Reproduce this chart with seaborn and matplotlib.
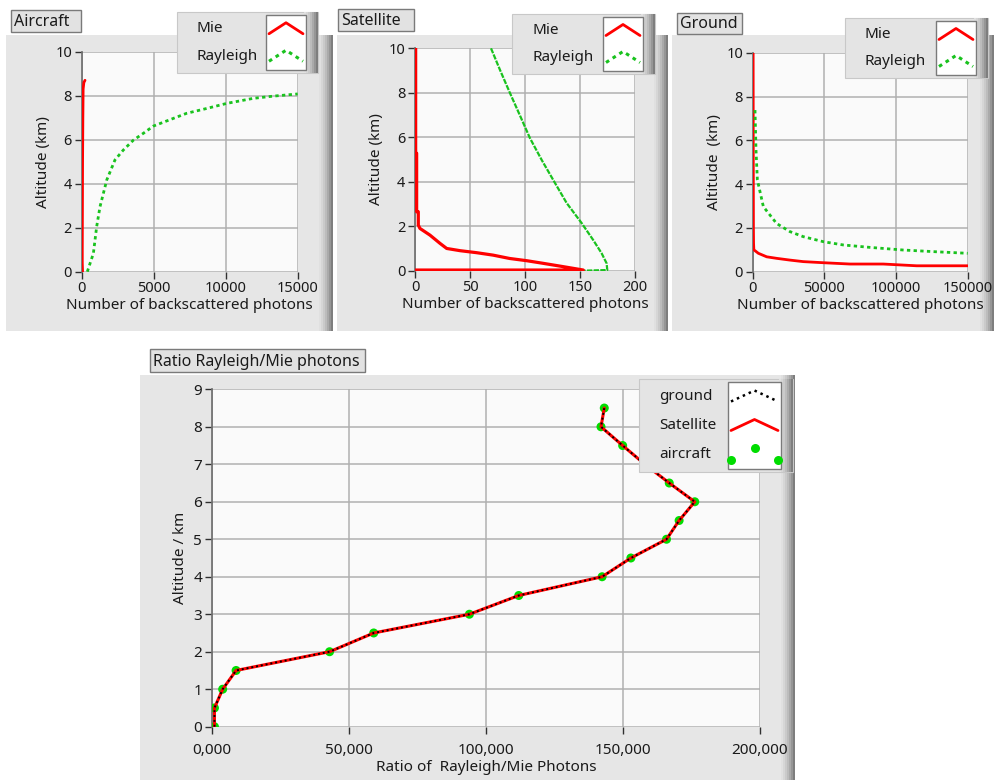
import numpy as np
import pandas as pd
import matplotlib
matplotlib.use("Agg")
import matplotlib.pyplot as plt
import seaborn as sns
from matplotlib.patches import Rectangle
from matplotlib.lines import Line2D
from matplotlib.ticker import FuncFormatter

# Aircraft profile (photons vs altitude km)
air_mie_alt = [0.0, 0.4, 1.0, 3.0, 5.0, 7.0, 8.3, 8.6, 8.7]
air_mie = [60, 40, 40, 50, 60, 80, 100, 150, 230]
air_ray_alt = [0.0, 0.83, 2.05, 2.95, 4.17, 5.08, 5.53, 5.98, 6.29, 6.62, 6.97, 7.2, 7.42, 7.65, 7.88, 7.98, 8.08]
air_ray = [390, 810, 1040, 1270, 1740, 2310, 2890, 3590, 4280, 4980, 6370, 7290, 8680, 10070, 11920, 13310, 15000]

# Satellite profile
sat_mie_alt = [10.0, 5.28, 5.28, 2.65, 2.65, 2.05, 1.9, 1.6, 1.23, 1.0, 0.9, 0.81, 0.7, 0.55, 0.45, 0.33, 0.18, 0.03, 0.03]
sat_mie = [0.6, 0.6, 1.5, 1.5, 3.0, 3.0, 4.5, 13.6, 22.7, 28.8, 41, 56, 71, 86, 101.5, 116.7, 135, 153, 0]
sat_ray_alt = [10.0, 9.0, 7.98, 6.97, 5.96, 4.95, 3.94, 3.04, 2.14, 1.38, 0.78, 0.33, 0.03, 0.0]
sat_ray = [69.1, 77.5, 86.4, 95.5, 104.5, 115.5, 127.3, 137.9, 151.5, 162, 169.7, 174.2, 174.8, 153]

# Ground profile
gnd_mie_alt = [10.0, 5.0, 2.0, 1.3, 1.0, 0.84, 0.68, 0.61, 0.53, 0.46, 0.41, 0.35, 0.35, 0.27, 0.27]
gnd_mie = [300, 400, 500, 600, 800, 3950, 9770, 16700, 26000, 35300, 49300, 67900, 91100, 114400, 150000]
gnd_ray_alt = [7.38, 5.56, 4.19, 2.97, 2.2, 1.83, 1.6, 1.37, 1.22, 1.11, 0.99, 0.91, 0.84]
gnd_ray = [1600, 2300, 3260, 7440, 16700, 26000, 35300, 49300, 63300, 81900, 105000, 128000, 150000]

# Ratio Rayleigh/Mie
ratio_alt = [0.0, 0.5, 1.0, 1.5, 2.0, 2.5, 3.0, 3.5, 4.0, 4.5, 5.0, 5.5, 6.0, 6.5, 7.0, 7.5, 8.0, 8.5]
ratio = [1000, 1000, 4000, 8900, 43000, 59100, 94000, 112000, 142400, 152900, 165900, 170500, 176200, 166900, 158000, 149900, 142000, 143200]

RED = "#ff0000"
GREEN = "#19c21e"
DOTGREEN = "#00dd00"
PANEL = "#e6e6e6"
PLOTBG = "#fafafa"
GRID = "#b0b0b0"
TXT = "#1a1a1a"

sns.set_theme(style="white")
plt.rcParams["font.family"] = ["Noto Sans", "DejaVu Sans"]

W, H = 994, 780
fig = plt.figure(figsize=(W / 100, H / 100), dpi=100)
fig.patch.set_facecolor("white")


def fx(x):
    return x / W


def fy(y):
    return 1 - y / H


def rect(x0, y0, x1, y1, fc, ec="none", lw=0, z=-5):
    fig.add_artist(Rectangle((fx(x0), fy(y1)), fx(x1 - x0), (y1 - y0) / H,
                             transform=fig.transFigure, fc=fc, ec=ec, lw=lw, zorder=z))


def bevel(x1, y0, y1, z):
    shades = ["#e0e0e0", "#d6d6d6", "#cacaca", "#bcbcbc", "#aaaaaa", "#969696", "#7e7e7e"]
    step = 2
    for i, c in enumerate(shades):
        xs = x1 - step * (len(shades) - i)
        rect(xs, y0, xs + step, y1, c, z=z)


def panel(x0, y0, x1, y1):
    rect(x0, y0, x1, y1, PANEL)
    bevel(x1, y0, y1, -4)


def make_axes(x0, y0, x1, y1):
    ax = fig.add_axes([fx(x0), fy(y1), fx(x1 - x0), (y1 - y0) / H])
    ax.set_facecolor(PLOTBG)
    ax.grid(True, color=GRID, lw=1.1)
    for s in ["top", "right", "bottom"]:
        ax.spines[s].set_visible(False)
    ax.spines["left"].set_color("#707070")
    ax.spines["left"].set_zorder(1.5)
    ax.tick_params(axis="both", which="both", direction="out", length=5, width=1,
                   color="#303030", labelsize=10.5, labelcolor=TXT, pad=2,
                   left=True, bottom=True)
    return ax


def line(ax, x, y, **kw):
    # raw profile, drawn in the given order (no aggregation)
    sns.lineplot(x=x, y=y, sort=False, estimator=None, ax=ax, **kw)


def title_box(x0, y0, x1, y1, s, size=11.5):
    rect(x0, y0, x1, y1, "#e2e2e2", ec="#7a7a7a", lw=1, z=5)
    fig.text(fx(x0 + 3), fy((y0 + y1) / 2 + 1), s, fontsize=size, color=TXT,
             va="center", ha="left", zorder=6)


def legend_box(x0, y0, x1, y1, wx0, labels, styles, size=11):
    # gray frame, white handle well, labels on the left
    rect(x0, y0, x1, y1, "#e4e4e4", ec="#c8c8c8", lw=0.8, z=10)
    bevel(x1, y0, y1, 10.5)
    wx1 = x1 - 12
    rect(wx0, y0 + 3, wx1, y1 - 3, "white", ec="#7a7a7a", lw=1, z=11)
    n = len(labels)
    row = (y1 - y0 - 6) / n
    for i, (lab, st) in enumerate(zip(labels, styles)):
        yc = y0 + 3 + row * (i + 0.5)
        fig.text(fx(x0 + 20), fy(yc), lab, fontsize=size, color=TXT,
                 va="center", ha="left", zorder=12)
        xs = [fx(wx0 + 3), fx((wx0 + wx1) / 2), fx(wx1 - 3)]
        ys = [fy(yc + 5), fy(yc - 6), fy(yc + 5)]
        fig.add_artist(Line2D(xs, ys, transform=fig.transFigure, zorder=13, **st))


mie_st = dict(color=RED, lw=2)
ray_st = dict(color=GREEN, lw=2.2, ls=(0, (1.2, 1.4)))

# ---- Aircraft ----
panel(6, 35, 333, 331)
ax1 = make_axes(81.7, 51.7, 297.7, 271.7)
line(ax1, air_mie, air_mie_alt, color=RED, lw=2, zorder=3)
line(ax1, air_ray, air_ray_alt, color=GREEN, lw=2, ls=(0, (1.2, 1.2)), zorder=3)
ax1.set_xlim(0, 15000)
ax1.set_ylim(0, 10)
ax1.set_xticks([0, 5000, 10000, 15000])
ax1.set_yticks([0, 2, 4, 6, 8, 10])
ax1.set_xlabel("Number of backscattered photons", fontsize=11, color=TXT, labelpad=1)
ax1.set_ylabel("Altitude (km)", fontsize=11, color=TXT, labelpad=3)
legend_box(177, 12, 318, 73, 266, ["Mie", "Rayleigh"], [mie_st, ray_st])
title_box(11, 10, 81, 32, "Aircraft")

# ---- Satellite ----
panel(337, 35, 668, 331)
ax2 = make_axes(415, 48.3, 635, 270.7)
line(ax2, sat_ray, sat_ray_alt, color=GREEN, lw=1.6, ls=(0, (2.4, 0.6)), zorder=3)
line(ax2, sat_mie, sat_mie_alt, color=RED, lw=2.3, zorder=3)
ax2.set_xlim(0, 200)
ax2.set_ylim(0, 10)
ax2.set_xticks([0, 50, 100, 150, 200])
ax2.set_yticks([0, 2, 4, 6, 8, 10])
ax2.set_xlabel("Number of backscattered photons", fontsize=11, color=TXT, labelpad=1)
ax2.set_ylabel("Altitude (km)", fontsize=11, color=TXT, labelpad=3)
legend_box(512, 14, 655, 74, 603, ["Mie", "Rayleigh"], [mie_st, ray_st])
title_box(338, 9, 414, 31, "Satellite")

# ---- Ground ----
panel(672, 35, 994, 331)
ax3 = make_axes(752.7, 52.7, 967.7, 271.7)
line(ax3, gnd_mie, gnd_mie_alt, color=RED, lw=2, zorder=3)
line(ax3, gnd_ray, gnd_ray_alt, color=GREEN, lw=2, ls=(0, (1.2, 1.2)), zorder=3)
ax3.set_xlim(0, 150000)
ax3.set_ylim(0, 10)
ax3.set_xticks([0, 50000, 100000, 150000])
ax3.set_yticks([0, 2, 4, 6, 8, 10])
ax3.set_xlabel("Number of backscattered photons", fontsize=11, color=TXT, labelpad=1)
ax3.set_ylabel("Altitude  (km)", fontsize=11, color=TXT, labelpad=3)
legend_box(845, 18, 988, 78, 936, ["Mie", "Rayleigh"], [mie_st, ray_st])
title_box(677, 13, 742, 34, "Ground")

# ---- Ratio ----
panel(140, 375, 795, 780)
ax4 = make_axes(211.7, 389.3, 760, 726.7)
sns.scatterplot(x=ratio, y=ratio_alt, color=DOTGREEN, s=42, edgecolor="none", ax=ax4, zorder=2)
line(ax4, ratio, ratio_alt, color=RED, lw=2.2, zorder=3)
line(ax4, ratio, ratio_alt, color="black", lw=1.4, ls=(0, (1.0, 1.5)), zorder=4)
ax4.set_xlim(0, 200000)
ax4.set_ylim(0, 9)
ax4.set_xticks([0, 50000, 100000, 150000, 200000])
ax4.set_yticks(range(10))
ax4.xaxis.set_major_formatter(FuncFormatter(lambda v, p: f"{int(v) // 1000},{int(v) % 1000:03d}"))
ax4.tick_params(axis="x", pad=7, labelsize=11)
ax4.tick_params(axis="y", labelsize=11)
ax4.set_xlabel("Ratio of  Rayleigh/Mie Photons", fontsize=11, color=TXT, labelpad=1)
ax4.set_ylabel("Altitude / km", fontsize=11, color=TXT, labelpad=4)
g_st = dict(color="black", lw=1.8, ls=(0, (1.0, 1.6)))
s_st = dict(color=RED, lw=2)
a_st = dict(color=DOTGREEN, ls="none", marker="o", ms=6.5, mec="none")
legend_box(639, 379, 793, 472, 728, ["ground", "Satellite", "aircraft"], [g_st, s_st, a_st])
title_box(150, 349, 365, 372, "Ratio Rayleigh/Mie photons")

fig.savefig("out.png", dpi=100)
